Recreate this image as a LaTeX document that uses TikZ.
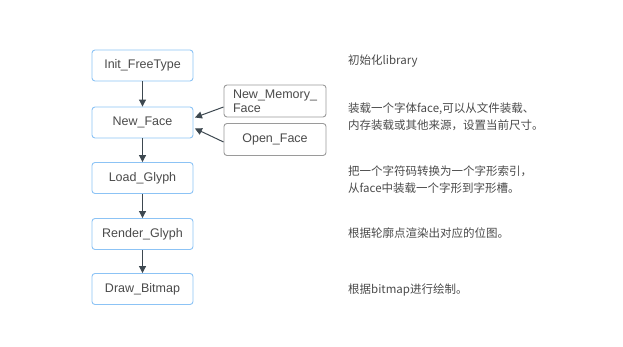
\documentclass[tikz,border=0pt]{standalone}
\usepackage{fontspec}
\setmainfont{Liberation Sans}
\newfontfamily\cjk{Noto Sans CJK SC}
\usetikzlibrary{arrows.meta}
\definecolor{bluebd}{HTML}{8CC3F5}
\definecolor{greybd}{HTML}{9A9A9A}
\definecolor{arrowc}{HTML}{3D4850}
\definecolor{txt}{HTML}{4A4A4A}
\tikzset{
  stepbox/.style={draw=bluebd, line width=0.9pt, rounded corners=3pt, minimum width=101pt, minimum height=31pt, inner sep=0pt, font=\fontsize{12.5}{14}\selectfont, text=txt},
  sidebox/.style={draw=greybd, line width=0.9pt, rounded corners=3pt, minimum width=102pt, minimum height=32pt, inner sep=0pt, font=\fontsize{12.5}{14}\selectfont, text=txt},
  conn/.style={draw=arrowc, line width=1pt, -{Triangle[length=7pt,width=7pt]}},
  note/.style={anchor=west, inner sep=0pt, font=\cjk\fontsize{11.5}{17}\selectfont, text=txt, align=left}
}
\begin{document}
\begin{tikzpicture}[x=1pt,y=-1pt]
\useasboundingbox (0,0) rectangle (623,347);
\node[stepbox] (init) at (142.5,65.5) {Init\_FreeType};
\node[stepbox] (nf) at (142.5,122.5) {New\_Face};
\node[stepbox] (lg) at (142.5,178) {Load\_Glyph};
\node[stepbox] (rg) at (142.5,234) {Render\_Glyph};
\node[stepbox] (db) at (142.5,289) {Draw\_Bitmap};
\node[sidebox, align=left, text width=84pt, minimum width=102pt] (nm) at (275,101) {New\_Memory\_\\Face};
\node[sidebox] (of) at (275,139.5) {Open\_Face};
\draw[conn] (init) -- (nf);
\draw[conn] (nf) -- (lg);
\draw[conn] (lg) -- (rg);
\draw[conn] (rg) -- (db);
\draw[conn] ([yshift=-6pt]nm.west) -- ([yshift=5pt,xshift=1.5pt]nf.east);
\draw[conn] ([yshift=-2.5pt]of.west) -- ([yshift=-6pt,xshift=1.5pt]nf.east);
\node[note] (t1) at (348,61) {初始化library};
\node[note] (t2) at (348,116.5) {装载一个字体face,可以从文件装载、\\内存装载或其他来源，设置当前尺寸。};
\node[note] (t3) at (348,179.5) {把一个字符码转换为一个字形索引，\\从face中装载一个字形到字形槽。};
\node[note] (t4) at (348,233) {根据轮廓点渲染出对应的位图。};
\node[note] (t5) at (348,290) {根据bitmap进行绘制。};
\end{tikzpicture}
\end{document}
